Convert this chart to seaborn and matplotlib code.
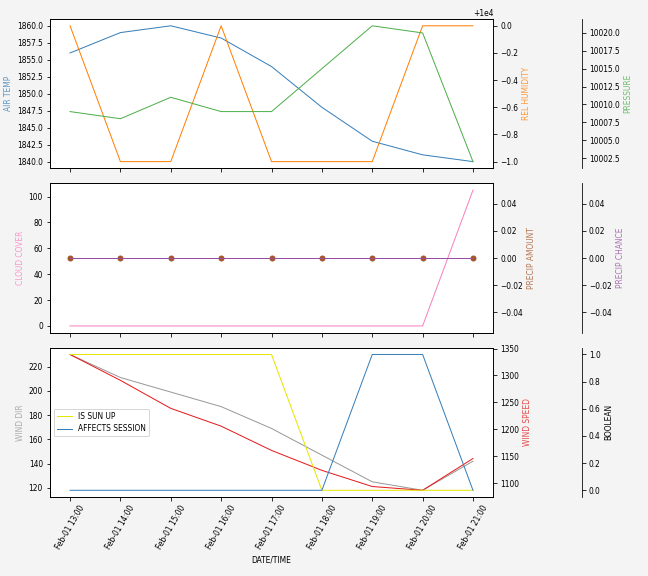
import matplotlib
matplotlib.use("Agg")
import matplotlib.pyplot as plt
import matplotlib.dates as mdates
import seaborn as sns
import pandas as pd

times = ["2023-02-01 13:00", "2023-02-01 14:00", "2023-02-01 15:00",
         "2023-02-01 16:00", "2023-02-01 17:00", "2023-02-01 18:00",
         "2023-02-01 19:00", "2023-02-01 20:00", "2023-02-01 21:00"]
air_temp = [1856, 1859, 1860, 1858.2, 1854, 1848, 1843, 1841, 1840]
rel_humidity = [10000, 9999, 9999, 10000, 9999, 9999, 9999, 10000, 10000]
pressure = [10009, 10008, 10011, 10009, 10009, 10015, 10021, 10020, 10002]
cloud_cover = [0, 0, 0, 0, 0, 0, 0, 0, 105]
precip_amount = [0, 0, 0, 0, 0, 0, 0, 0, 0]
precip_chance = [0, 0, 0, 0, 0, 0, 0, 0, 0]
wind_dir = [230, 211, 199, 187, 169, 147, 125, 118, 142]
wind_speed = [1339, 1291, 1239, 1206, 1161, 1124, 1094, 1087, 1146]
is_sun_up = [1, 1, 1, 1, 1, 0, 0, 0, 0]
affects_session = [0, 0, 0, 0, 0, 0, 1, 1, 0]

x = pd.to_datetime(pd.Series(times))

C_BLUE = "#377eb8"
C_ORANGE = "#ff7f00"
C_GREEN = "#4daf4a"
C_PINK = "#f781bf"
C_BROWN = "#a65628"
C_PURPLE = "#984ea3"
C_GRAY = "#999999"
C_RED = "#e41a1c"
C_YELLOW = "#e6e600"

plt.rcParams.update({
    "font.family": ["DejaVu Sans"],
    "font.size": 7.5,
    "axes.labelsize": 7.5,
    "xtick.labelsize": 7.5,
    "ytick.labelsize": 7.5,
    "legend.fontsize": 7.5,
})

fig, axes = plt.subplots(3, 1, figsize=(9, 8), dpi=72, sharex=True)
fig.patch.set_facecolor("#f4f4f4")
fig.subplots_adjust(left=0.077, right=0.761, top=0.967, bottom=0.137, hspace=0.1)

lw = 1.0
lab_alpha = 0.8

# Top panel
ax = axes[0]
sns.lineplot(x=x, y=air_temp, ax=ax, color=C_BLUE, lw=lw)
ax.set_ylabel("AIR TEMP", color=C_BLUE, alpha=lab_alpha)
ax2 = ax.twinx()
sns.lineplot(x=x, y=rel_humidity, ax=ax2, color=C_ORANGE, lw=lw)
ax2.set_ylabel("REL HUMIDITY", color=C_ORANGE, alpha=lab_alpha)
ax3 = ax.twinx()
ax3.spines["right"].set_position(("axes", 1.2))
sns.lineplot(x=x, y=pressure, ax=ax3, color=C_GREEN, lw=lw)
ax3.set_ylabel("PRESSURE", color=C_GREEN, alpha=lab_alpha)

# Middle panel
ax = axes[1]
sns.lineplot(x=x, y=cloud_cover, ax=ax, color=C_PINK, lw=lw)
ax.set_ylabel("CLOUD COVER", color=C_PINK, alpha=lab_alpha)
ax2 = ax.twinx()
sns.lineplot(x=x, y=precip_amount, ax=ax2, color=C_BROWN, lw=lw,
             marker="o", markersize=6, markeredgewidth=0)
ax2.set_ylabel("PRECIP AMOUNT", color=C_BROWN, alpha=lab_alpha)
ax3 = ax.twinx()
ax3.spines["right"].set_position(("axes", 1.2))
sns.lineplot(x=x, y=precip_chance, ax=ax3, color=C_PURPLE, lw=lw)
ax3.set_ylabel("PRECIP CHANCE", color=C_PURPLE, alpha=lab_alpha)

# Bottom panel
ax = axes[2]
sns.lineplot(x=x, y=wind_dir, ax=ax, color=C_GRAY, lw=lw)
ax.set_ylabel("WIND DIR", color=C_GRAY, alpha=lab_alpha)
ax2 = ax.twinx()
sns.lineplot(x=x, y=wind_speed, ax=ax2, color=C_RED, lw=lw)
ax2.set_ylabel("WIND SPEED", color=C_RED, alpha=lab_alpha)
ax3 = ax.twinx()
ax3.spines["right"].set_position(("axes", 1.2))
sns.lineplot(x=x, y=is_sun_up, ax=ax3, color=C_YELLOW, lw=lw, label="IS SUN UP")
sns.lineplot(x=x, y=affects_session, ax=ax3, color=C_BLUE, lw=lw, label="AFFECTS SESSION")
ax3.set_ylabel("BOOLEAN", color="black")
ax3.legend(loc="center left")

ax.set_xlabel("DATE/TIME")
ax.xaxis.set_major_locator(mdates.HourLocator(interval=1))
ax.xaxis.set_major_formatter(mdates.DateFormatter("%b-%d %H:%M"))
for lbl in ax.get_xticklabels():
    lbl.set_rotation(60)

fig.savefig("out.png", dpi=72, facecolor=fig.get_facecolor())
